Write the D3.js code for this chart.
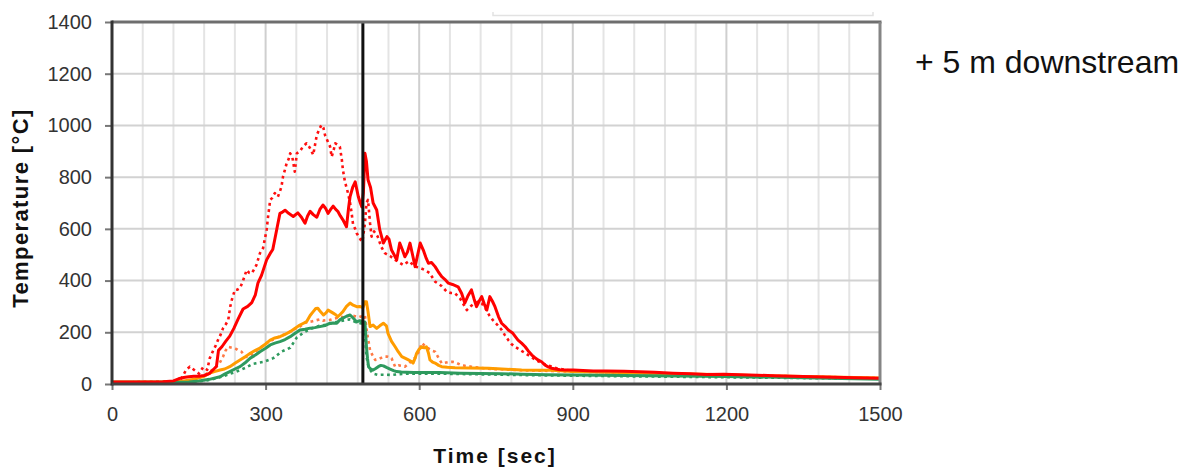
<!DOCTYPE html>
<html>
<head>
<meta charset="utf-8">
<script src="https://cdn.jsdelivr.net/npm/d3@7"></script>
<style>
  html, body { margin: 0; padding: 0; background: #fff; }
  svg { display: block; font-family: "Liberation Sans", Arial, sans-serif; }
</style>
</head>
<body>
<svg id="chart" width="1190" height="471"></svg>
<script>
// ---------------- DATA ----------------
const xTicks = [0, 300, 600, 900, 1200, 1500];
const yTicks = [0, 200, 400, 600, 800, 1000, 1200, 1400];
const xGrid = d3.range(60, 1500, 60);
const markerTime = 490;
const xLabel = "Time [sec]";
const yLabel = "Temperature [°C]";
const panelLabel = "+ 5 m downstream";

// red solid
const redSolidT = [0,20,40,60,80,100,120,130,140,150,160,170,180,190,200,204,208,215,222,230,238,246,256,265,273,280,285,292,302,309,314,318,323,328,333,338,345,354,363,370,377,382,387,393,400,406,412,417,422,427,432,437,441,446,451,458,462,465,470,475,481,485,488,491,494,497,500,505,510,517,523,530,537,541,546,551,556,562,567,572,577,582,587,592,597,602,608,613,618,624,631,637,644,650,657,665,676,683,689,695,702,707,712,717,722,727,732,738,743,748,755,761,768,774,783,793,800,807,813,820,826,832,839,846,852,859,866,875,885,901,920,940,966,1000,1031,1060,1096,1130,1161,1195,1227,1260,1292,1330,1370,1410,1450,1500];
const redSolidV = [8,8,8,8,8,9,12,20,25,28,30,30,33,40,60,68,130,145,165,185,215,250,290,300,315,345,390,420,480,505,520,560,610,660,665,672,660,648,662,645,622,650,668,655,645,675,692,680,660,675,688,675,668,650,635,608,680,725,760,782,725,700,685,740,892,860,790,760,700,673,596,545,570,560,518,500,480,545,520,492,510,545,500,454,500,545,518,490,467,470,454,435,415,405,390,385,376,350,313,340,364,330,299,320,338,310,286,338,320,299,260,235,222,209,196,170,158,144,128,112,102,93,86,73,66,61,58,55,54,54,52,50,50,49,47,45,42,40,37,38,36,34,32,30,28,26,24,22];

// red dotted
const redDotT = [0,40,80,120,135,145,152,160,170,178,186,191,198,203,207,212,217,222,227,231,234,240,245,250,256,263,268,273,278,282,289,295,302,305,309,313,318,324,328,331,334,338,341,345,348,352,357,361,367,373,380,386,393,397,400,405,409,413,416,421,426,429,433,436,441,445,449,451,455,458,461,465,468,471,475,478,482,486,489,494,497,500,504,507,512,519,526,533,543,553,561,569,580,592,600,611,620,631,643,654,662,670,680,693,700,708,715,722,730,737,744,752,761,767,774,780,787,800,813,826,839,850,859,870,885,900,930,960,1000,1040,1080,1120,1160,1200,1240,1280,1320,1360,1400,1450,1500];
const redDotV = [6,7,8,10,20,55,67,55,40,65,55,100,131,150,170,190,216,230,247,300,325,364,365,371,400,441,430,428,445,460,506,525,596,650,712,720,738,724,745,763,802,830,853,870,892,880,821,892,900,918,931,915,886,930,963,985,1002,990,963,940,918,879,905,931,925,918,866,828,782,760,738,700,661,615,600,583,570,557,550,620,700,712,622,570,590,570,530,506,495,480,470,460,475,454,450,441,430,396,380,357,352,351,330,286,300,312,318,312,290,265,247,230,209,190,170,155,144,128,112,95,81,72,67,60,55,50,48,46,44,42,40,38,36,34,32,30,28,26,24,22,20];

// orange solid
const orangeSolidT = [0,40,80,120,140,160,180,191,200,211,220,230,240,250,260,270,280,289,300,309,318,328,338,348,357,367,374,380,387,393,398,402,407,413,418,422,427,432,437,441,446,451,458,465,471,478,484,490,494,497,500,504,510,517,523,530,536,539,546,553,559,566,572,579,584,588,592,595,600,605,610,614,618,621,626,631,638,644,655,670,700,735,770,800,830,859,900,950,1000,1050,1100,1150,1200,1250,1300,1350,1400,1450,1500];
const orangeSolidV = [8,8,8,9,12,18,30,42,48,54,58,67,80,93,105,119,130,139,155,170,178,183,192,202,215,228,235,241,265,280,292,293,280,267,275,286,280,274,268,260,270,280,300,313,305,299,300,295,318,318,280,222,228,215,225,235,225,196,165,144,125,106,100,93,88,81,100,119,135,144,140,144,120,93,85,81,72,67,65,63,62,61,57,54,53,53,48,46,44,42,40,38,36,33,31,29,27,25,23];

// orange dotted
const orangeDotT = [0,50,100,150,170,185,200,210,217,222,227,235,243,248,253,258,263,270,280,290,300,310,320,330,340,350,360,367,375,383,390,400,406,412,419,426,433,439,446,452,460,468,475,482,488,494,498,504,509,514,520,530,538,546,553,560,566,572,580,588,595,600,605,610,614,620,626,631,638,644,650,657,665,670,680,690,702,720,740,760,780,800,830,860,900,950,1000,1050,1100,1150,1200,1250,1300,1350,1400,1450,1500];
const orangeDotV = [7,7,8,12,25,40,60,80,106,130,144,140,135,128,125,112,105,110,125,140,155,167,178,186,195,205,215,222,235,240,242,247,250,245,247,248,252,255,260,258,262,265,262,258,262,265,200,131,110,93,95,106,106,100,67,72,70,67,80,95,106,130,158,150,144,135,128,125,100,80,82,85,86,84,75,70,67,62,58,57,55,53,52,50,48,46,44,42,40,37,35,33,31,29,27,25,23];

// green solid
const greenSolidT = [0,50,100,150,170,190,211,220,230,240,250,260,270,280,289,300,309,318,328,338,348,357,367,377,387,396,406,416,426,432,439,445,451,458,465,471,478,484,490,494,497,499,501,505,510,515,520,525,530,536,543,550,556,565,575,590,610,640,680,720,760,800,850,900,950,1000,1050,1100,1150,1200,1250,1300,1350,1400,1450,1500];
const greenSolidV = [7,7,7,8,12,18,28,38,48,58,67,82,100,112,125,138,151,158,164,172,183,195,209,212,216,218,222,226,235,236,235,248,255,262,267,255,240,245,241,240,144,100,67,58,54,60,67,72,70,64,58,52,48,46,45,44,44,44,42,41,40,38,36,35,34,33,32,31,30,29,27,26,24,22,20,18];

// green dotted
const greenDotT = [0,50,100,150,180,200,220,243,260,275,295,315,331,348,361,375,390,405,420,435,450,465,475,485,490,494,497,500,504,510,520,530,545,560,580,600,640,700,760,820,900,1000,1100,1200,1300,1400,1500];
const greenDotV = [6,6,6,7,12,20,32,48,62,78,85,100,125,140,180,200,215,225,230,238,245,250,240,235,232,200,106,75,55,40,35,36,35,38,40,40,40,38,36,34,32,30,28,26,24,22,20];

// ---------------- DRAW ----------------
const svg = d3.select("#chart");
const x = d3.scaleLinear().domain([0, 1500]).range([112, 880]);
const y = d3.scaleLinear().domain([0, 1400]).range([384, 22]);

svg.append("rect").attr("width", 1190).attr("height", 471).attr("fill", "#fff");

// faint legend box remnant at the top
svg.append("path")
  .attr("d", `M493,12V15.5H873V12`)
  .attr("fill", "none").attr("stroke", "#e2e2e2").attr("stroke-width", 1.5);

// grid
const grid = svg.append("g");
grid.selectAll("line.vg").data(xGrid).join("line")
  .attr("x1", d => x(d)).attr("x2", d => x(d))
  .attr("y1", y(1400)).attr("y2", y(0))
  .attr("stroke", d => d % 300 === 0 ? "#cfcfcf" : "#e4e4e4")
  .attr("stroke-width", 2);
grid.selectAll("line.hg").data(yTicks.filter(d => d > 0 && d < 1400)).join("line")
  .attr("x1", x(0)).attr("x2", x(1500))
  .attr("y1", d => y(d)).attr("y2", d => y(d))
  .attr("stroke", "#d2d2d2").attr("stroke-width", 2);

// series
const series = [
  { t: orangeDotT, v: orangeDotV, color: "#ff7a45", dash: "2.8,3.5", w: 2.6 },
  { t: greenDotT, v: greenDotV, color: "#2e9a5e", dash: "2.8,3.5", w: 2.6 },
  { t: redDotT, v: redDotV, color: "#ff1010", dash: "2.8,3.5", w: 2.6 },
  { t: orangeSolidT, v: orangeSolidV, color: "#ff9c00", dash: null, w: 3 },
  { t: greenSolidT, v: greenSolidV, color: "#2e9a5e", dash: null, w: 3 },
  { t: redSolidT, v: redSolidV, color: "#ff0000", dash: null, w: 3 }
];
const line = d3.line().x(d => x(d[0])).y(d => y(d[1]));
series.forEach(s => {
  svg.append("path")
    .datum(d3.zip(s.t, s.v))
    .attr("d", line)
    .attr("fill", "none")
    .attr("stroke", s.color)
    .attr("stroke-width", s.w)
    .attr("stroke-linejoin", "round")
    .attr("stroke-dasharray", s.dash);
});

// vertical marker
svg.append("line")
  .attr("x1", x(markerTime)).attr("x2", x(markerTime))
  .attr("y1", y(1400)).attr("y2", y(0))
  .attr("stroke", "#111").attr("stroke-width", 3);

// frame
svg.append("line").attr("x1", x(0)).attr("x2", x(1500) + 1.5).attr("y1", y(1400)).attr("y2", y(1400))
  .attr("stroke", "#6e6e6e").attr("stroke-width", 3);
svg.append("line").attr("x1", x(1500)).attr("x2", x(1500)).attr("y1", y(1400)).attr("y2", y(0))
  .attr("stroke", "#858585").attr("stroke-width", 3);

// axes
const yAxis = svg.append("g").attr("transform", `translate(${x(0)},0)`)
  .call(d3.axisLeft(y).tickValues(yTicks).tickSize(7).tickPadding(13).tickFormat(d3.format("d")));
const xAxis = svg.append("g").attr("transform", `translate(0,${y(0)})`)
  .call(d3.axisBottom(x).tickValues(xTicks).tickSize(6).tickPadding(17).tickFormat(d3.format("d")));
[yAxis, xAxis].forEach(a => {
  a.select(".domain").remove();
  a.selectAll(".tick line").attr("stroke", "#777").attr("stroke-width", 2);
  a.selectAll(".tick text").attr("fill", "#333").style("font-size", "20px")
    .style("font-family", '"Liberation Sans", Arial, sans-serif');
});
svg.append("line").attr("x1", x(0)).attr("x2", x(0)).attr("y1", y(1400) - 1.5).attr("y2", y(0) + 1.5)
  .attr("stroke", "#333").attr("stroke-width", 3);
svg.append("line").attr("x1", x(0)).attr("x2", x(1500) + 1.5).attr("y1", y(0)).attr("y2", y(0))
  .attr("stroke", "#444").attr("stroke-width", 3);

// titles
svg.append("text")
  .attr("x", 495).attr("y", 463)
  .attr("text-anchor", "middle")
  .style("font-size", "21px").style("font-weight", "bold").style("letter-spacing", "2px")
  .attr("fill", "#111")
  .text(xLabel);
svg.append("text")
  .attr("transform", "translate(28,208) rotate(-90)")
  .attr("text-anchor", "middle")
  .style("font-size", "22px").style("font-weight", "bold").style("letter-spacing", "1.4px")
  .attr("fill", "#111")
  .text(yLabel);
svg.append("text")
  .attr("x", 915).attr("y", 73)
  .style("font-size", "32px")
  .attr("fill", "#111")
  .text(panelLabel);
</script>
</body>
</html>
